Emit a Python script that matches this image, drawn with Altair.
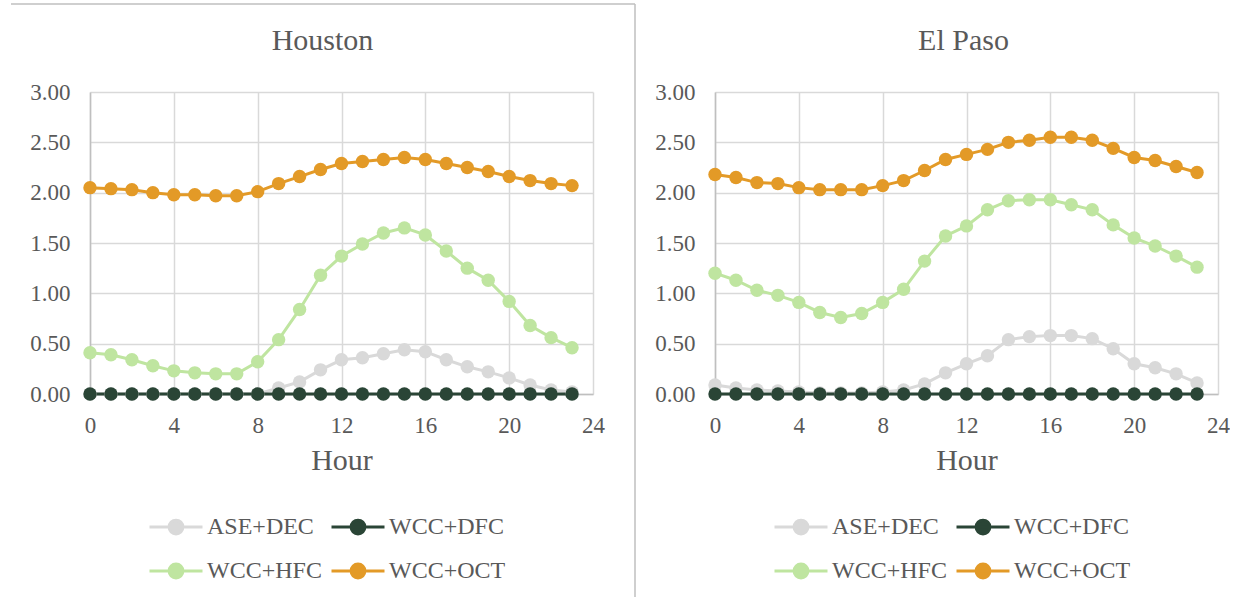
import altair as alt
import pandas as pd

hours = list(range(24))
series = ["ASE+DEC", "WCC+DFC", "WCC+HFC", "WCC+OCT"]
colors = ["#d9d9d9", "#2a4536", "#bfe5a0", "#e39a27"]
x_ticks = [0, 4, 8, 12, 16, 20, 24]
y_ticks = [0.0, 0.5, 1.0, 1.5, 2.0, 2.5, 3.0]

houston_ase = [0.00, 0.00, 0.00, 0.00, 0.00, 0.00, 0.00, 0.00, 0.00, 0.06, 0.12, 0.24,
               0.34, 0.36, 0.40, 0.44, 0.42, 0.34, 0.27, 0.22, 0.16, 0.09, 0.04, 0.02]
houston_dfc = [0.00, 0.00, 0.00, 0.00, 0.00, 0.00, 0.00, 0.00, 0.00, 0.00, 0.00, 0.00,
               0.00, 0.00, 0.00, 0.00, 0.00, 0.00, 0.00, 0.00, 0.00, 0.00, 0.00, 0.00]
houston_hfc = [0.41, 0.39, 0.34, 0.28, 0.23, 0.21, 0.20, 0.20, 0.32, 0.54, 0.84, 1.18,
               1.37, 1.49, 1.60, 1.65, 1.58, 1.42, 1.25, 1.13, 0.92, 0.68, 0.56, 0.46]
houston_oct = [2.05, 2.04, 2.03, 2.00, 1.98, 1.98, 1.97, 1.97, 2.01, 2.09, 2.16, 2.23,
               2.29, 2.31, 2.33, 2.35, 2.33, 2.29, 2.25, 2.21, 2.16, 2.12, 2.09, 2.07]

elpaso_ase = [0.09, 0.06, 0.04, 0.03, 0.02, 0.01, 0.01, 0.01, 0.02, 0.04, 0.10, 0.21,
              0.30, 0.38, 0.54, 0.57, 0.58, 0.58, 0.55, 0.45, 0.30, 0.26, 0.20, 0.11]
elpaso_dfc = [0.00, 0.00, 0.00, 0.00, 0.00, 0.00, 0.00, 0.00, 0.00, 0.00, 0.00, 0.00,
              0.00, 0.00, 0.00, 0.00, 0.00, 0.00, 0.00, 0.00, 0.00, 0.00, 0.00, 0.00]
elpaso_hfc = [1.20, 1.13, 1.03, 0.98, 0.91, 0.81, 0.76, 0.80, 0.91, 1.04, 1.32, 1.57,
              1.67, 1.83, 1.92, 1.93, 1.93, 1.88, 1.83, 1.68, 1.55, 1.47, 1.37, 1.26]
elpaso_oct = [2.18, 2.15, 2.10, 2.09, 2.05, 2.03, 2.03, 2.03, 2.07, 2.12, 2.22, 2.33,
              2.38, 2.43, 2.50, 2.52, 2.55, 2.55, 2.52, 2.44, 2.35, 2.32, 2.26, 2.20]

FONT = "Liberation Serif"
TXT = "#595959"
GRID = "#d9d9d9"
W, H = 503, 302


def build_df(vals):
    rows = []
    for s, v in zip(series, vals):
        for h, y in zip(hours, v):
            rows.append({"Hour": h, "Value": y, "Series": s})
    return pd.DataFrame(rows)


def panel(city, vals, title_dx, show_border):
    df = build_df(vals)
    color = alt.Color(
        "Series:N",
        scale=alt.Scale(domain=series, range=colors),
        legend=alt.Legend(
            title=None,
            orient="none",
            legendX=58,
            legendY=407,
            columns=2,
            direction="horizontal",
            symbolType="M-1,0 L1,0 M-0.26,0 A0.26,0.26 0 1,0 0.26,0 A0.26,0.26 0 1,0 -0.26,0 Z",
            symbolSize=2809,
            symbolStrokeWidth=3,
            labelFont=FONT,
            labelFontSize=24,
            labelColor=TXT,
            labelOffset=3,
            columnPadding=3,
            rowPadding=3,
        ),
    )
    base = alt.Chart(df).encode(
        x=alt.X(
            "Hour:Q",
            scale=alt.Scale(domain=[0, 24], nice=False, zero=False),
            axis=alt.Axis(
                values=x_ticks, title="Hour", labelFlush=False, ticks=False,
                labelPadding=20, titlePadding=8,
            ),
        ),
        y=alt.Y(
            "Value:Q",
            scale=alt.Scale(domain=[0, 3], nice=False),
            axis=alt.Axis(values=y_ticks, format=".2f", title=None, ticks=False, labelPadding=20),
        ),
        color=color,
        order=alt.Order("Hour:Q"),
    )
    line = base.mark_line(strokeWidth=3)
    pts = base.mark_circle(size=180, opacity=1)

    border_color = "#bfbfbf" if show_border else "transparent"
    rdf = pd.DataFrame({"k": [0]})
    vline = alt.Chart(rdf).mark_rule(color=border_color, strokeWidth=1.5).encode(
        x=alt.value(545 if show_border else 0), y=alt.value(-88), y2=alt.value(505 if show_border else 0)
    )
    hline = alt.Chart(rdf).mark_rule(color=border_color, strokeWidth=1.5).encode(
        x=alt.value(-79 if show_border else 0), x2=alt.value(545 if show_border else 10), y=alt.value(-88)
    )
    return alt.layer(line, pts, vline, hline).properties(
        width=W,
        height=H,
        title=alt.TitleParams(
            city, font=FONT, fontSize=30, color=TXT, fontWeight="normal",
            frame="group", dx=title_dx, offset=-53,
        ),
    )


left = panel("Houston", [houston_ase, houston_dfc, houston_hfc, houston_oct], -19, True)
right = panel("El Paso", [elpaso_ase, elpaso_dfc, elpaso_hfc, elpaso_oct], -3, False)

chart = (
    alt.hconcat(left, right, spacing=122, bounds="flush")
    .resolve_scale(color="independent")
    .resolve_legend(color="independent")
    .properties(padding={"left": 10, "top": 3, "right": 0, "bottom": 0}, background="white")
    .configure_view(stroke=None)
    .configure_axis(
        labelFont=FONT, labelFontSize=23, labelColor=TXT,
        titleFont=FONT, titleFontSize=30, titleColor=TXT, titleFontWeight="normal",
        gridColor=GRID, gridWidth=1.5, domainColor="#bfbfbf", domainWidth=1.5,
    )
)

chart.save("out.html", embed_options={"renderer": "svg", "actions": False})
